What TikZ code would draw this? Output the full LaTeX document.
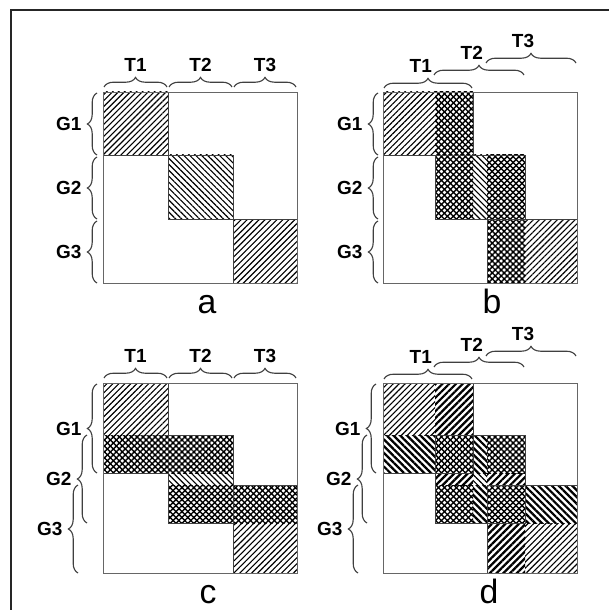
\documentclass[tikz,border=0pt]{standalone}
\usepackage{fontspec}
\setmainfont{Liberation Sans}
\usetikzlibrary{patterns.meta,decorations.pathreplacing}

\tikzset{
  mat/.style={draw=black!60, line width=0.7pt},
  blk/.style={draw=black!75, line width=0.6pt},
  hne/.style={pattern={Lines[angle=45,distance=3pt,line width=0.8pt]}},
  hnw/.style={pattern={Lines[angle=-45,distance=3pt,line width=0.8pt]}},
  bne/.style={pattern={Lines[angle=45,distance=3.4pt,line width=1.6pt]}},
  bnw/.style={pattern={Lines[angle=-45,distance=3.4pt,line width=1.6pt]}},
  xh/.style={pattern={Lines[angle=45,distance=3pt,line width=1pt]},
    postaction={pattern={Lines[angle=-45,distance=3pt,line width=1pt]}}},
  brc/.style={draw=black!75, line width=0.8pt, decorate,
    decoration={brace, amplitude=0.24cm}},
  tlab/.style={font=\fontsize{13.5}{13.5}\selectfont\bfseries, midway, yshift=0.55cm},
  glab/.style={font=\fontsize{13.5}{13.5}\selectfont\bfseries, midway, anchor=east, xshift=-0.26cm},
  plab/.style={font=\fontsize{24}{24}\selectfont, anchor=base}
}

\begin{document}
\begin{tikzpicture}[x=0.025cm, y=-0.025cm]
  \useasboundingbox (0,0) rectangle (609,610);
  % frame
  \draw[black!85, line width=1pt] (11,610) -- (11,10) -- (609,10);

  % panel a
  \fill[hne] (103,92) rectangle (168,155);
  \fill[hnw] (168,155) rectangle (233,219);
  \fill[hne] (233,219) rectangle (297,283);
  \draw[blk] (103,92) rectangle (168,155) (168,155) rectangle (233,219) (233,219) rectangle (297,283);
  \draw[mat] (103,92) rectangle (297,283);
  \draw[brc] (104,87) -- (167,87) node[tlab] (aT1) {T1};
  \draw[brc] (169,87) -- (232,87) node[tlab] (aT2) {T2};
  \draw[brc] (234,87) -- (296,87) node[tlab] (aT3) {T3};
  \draw[brc] (97,155) -- (97,93) node[glab] (aG1) {G1};
  \draw[brc] (97,219) -- (97,157) node[glab] (aG2) {G2};
  \draw[brc] (97,283) -- (97,221) node[glab] (aG3) {G3};
  \node[plab] (pa) at (207,313) {a};

  % panel b
  \fill[hne] (383,92) rectangle (435,155);
  \fill[xh] (435,92) rectangle (473,155);
  \fill[xh] (435,155) rectangle (473,219);
  \fill[hnw] (473,155) rectangle (487,219);
  \fill[xh] (487,155) rectangle (525,219);
  \fill[xh] (487,219) rectangle (525,283);
  \fill[hne] (525,219) rectangle (577,283);
  \draw[blk] (383,92) rectangle (473,155) (435,155) rectangle (525,219) (487,219) rectangle (577,283);
  \draw[mat] (383,92) rectangle (577,283);
  \draw[brc] (384,88) -- (472,88) node[tlab, xshift=-0.18cm] (bT1) {T1};
  \draw[brc] (434,75) -- (524,75) node[tlab, xshift=-0.18cm] (bT2) {T2};
  \draw[brc] (486,63) -- (576,63) node[tlab, xshift=-0.2cm] (bT3) {T3};
  \draw[brc] (378,155) -- (378,93) node[glab] (bG1) {G1};
  \draw[brc] (378,219) -- (378,157) node[glab] (bG2) {G2};
  \draw[brc] (378,283) -- (378,221) node[glab] (bG3) {G3};
  \node[plab] (pb) at (492,313) {b};

  % panel c
  \fill[hne] (103,383) rectangle (168,435);
  \fill[xh] (103,435) rectangle (168,473);
  \fill[xh] (168,435) rectangle (233,473);
  \fill[hnw] (168,473) rectangle (233,485);
  \fill[xh] (168,485) rectangle (233,523);
  \fill[xh] (233,485) rectangle (297,523);
  \fill[hne] (233,523) rectangle (297,573);
  \draw[blk] (103,383) rectangle (168,473) (168,435) rectangle (233,523) (233,485) rectangle (297,573);
  \draw[mat] (103,383) rectangle (297,573);
  \draw[brc] (104,378) -- (167,378) node[tlab] (cT1) {T1};
  \draw[brc] (169,378) -- (232,378) node[tlab] (cT2) {T2};
  \draw[brc] (234,378) -- (296,378) node[tlab] (cT3) {T3};
  \draw[brc] (97,473) -- (97,384) node[glab] (cG1) {G1};
  \draw[brc] (87,523) -- (87,435) node[glab] (cG2) {G2};
  \draw[brc] (78,573) -- (78,485) node[glab] (cG3) {G3};
  \node[plab] (pc) at (208,603) {c};

  % panel d
  \fill[hne] (383,383) rectangle (435,435);
  \fill[bne] (435,383) rectangle (473,435);
  \fill[bnw] (383,435) rectangle (435,473);
  \fill[xh] (435,435) rectangle (473,473);
  \fill[bnw] (473,435) rectangle (487,473);
  \fill[xh] (487,435) rectangle (525,473);
  \fill[bne] (435,473) rectangle (473,485);
  \fill[hnw] (473,473) rectangle (487,485);
  \fill[bne] (487,473) rectangle (525,485);
  \fill[xh] (435,485) rectangle (473,523);
  \fill[bnw] (473,485) rectangle (487,523);
  \fill[xh] (487,485) rectangle (525,523);
  \fill[bnw] (525,485) rectangle (577,523);
  \fill[bne] (487,523) rectangle (525,573);
  \fill[hne] (525,523) rectangle (577,573);
  \draw[blk] (383,383) rectangle (473,473) (435,435) rectangle (525,523) (487,485) rectangle (577,573);
  \draw[mat] (383,383) rectangle (577,573);
  \draw[brc] (384,379) -- (472,379) node[tlab, xshift=-0.18cm] (dT1) {T1};
  \draw[brc] (434,367) -- (524,367) node[tlab, xshift=-0.18cm] (dT2) {T2};
  \draw[brc] (486,356) -- (576,356) node[tlab, xshift=-0.2cm] (dT3) {T3};
  \draw[brc] (376,473) -- (376,384) node[glab] (dG1) {G1};
  \draw[brc] (367,523) -- (367,435) node[glab] (dG2) {G2};
  \draw[brc] (358,573) -- (358,485) node[glab] (dG3) {G3};
  \node[plab] (pd) at (489,603) {d};
\end{tikzpicture}
\end{document}
